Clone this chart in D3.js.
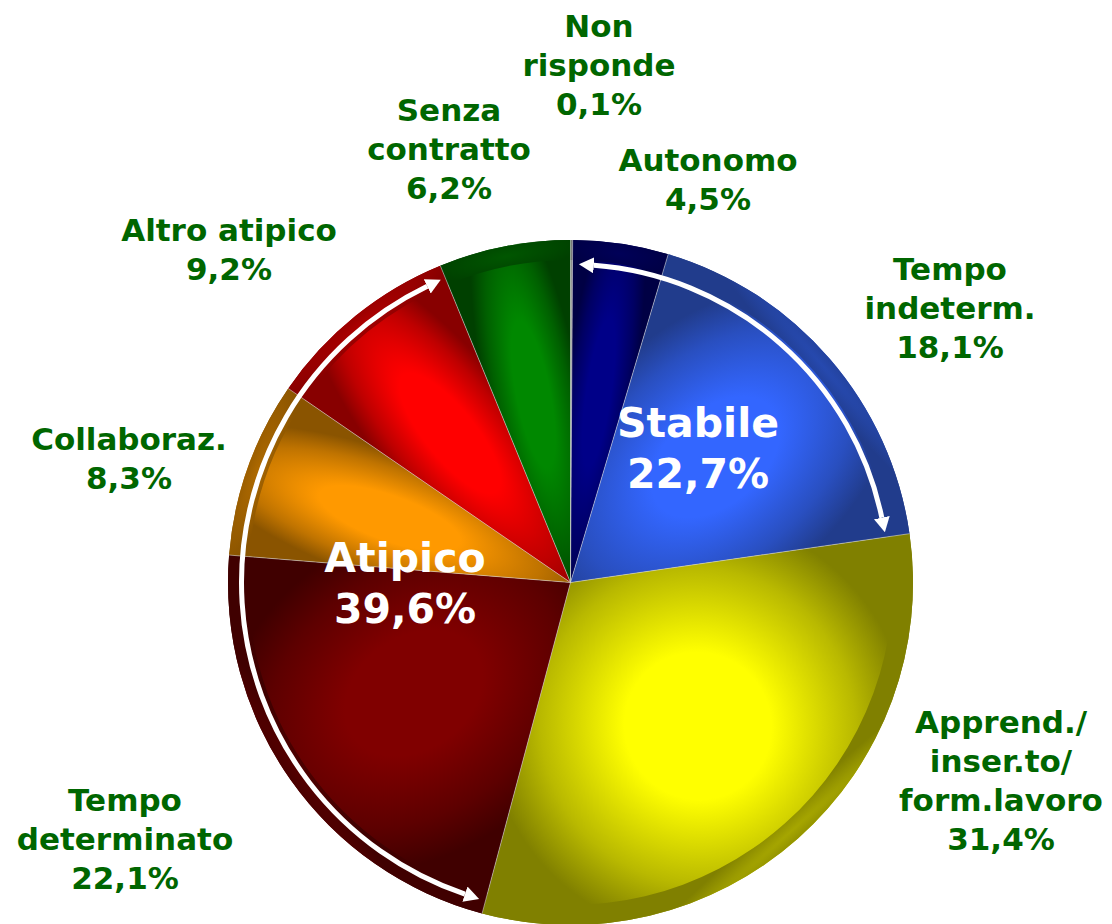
<!DOCTYPE html>
<html>
<head>
<meta charset="utf-8">
<script src="https://cdn.jsdelivr.net/npm/d3@7"></script>
<style>
  body { margin: 0; background: #ffffff; }
  svg { display: block; }
  text { font-family: "DejaVu Sans", Verdana, sans-serif; font-weight: bold; }
</style>
</head>
<body>
<svg></svg>
<script>
// data (clockwise from 12 o'clock)
let categories = ['Non risponde', 'Autonomo', 'Tempo indeterm.', 'Apprend./inser.to/form.lavoro',
                  'Tempo determinato', 'Collaboraz.', 'Altro atipico', 'Senza contratto'];
let values = [0.1, 4.5, 18.1, 31.4, 22.1, 8.3, 9.2, 6.2];
let labelLines = [['Non', 'risponde'], ['Autonomo'], ['Tempo', 'indeterm.'], ['Apprend./', 'inser.to/', 'form.lavoro'],
                  ['Tempo', 'determinato'], ['Collaboraz.'], ['Altro atipico'], ['Senza', 'contratto']];
let valueLabels = ['0,1%', '4,5%', '18,1%', '31,4%', '22,1%', '8,3%', '9,2%', '6,2%'];

let groupNames = ['Stabile', 'Atipico'];
let groupValues = ['22,7%', '39,6%'];
let groupMembers = [[1, 2], [4, 5, 6]];

// styles
let brightColors = ['#a0a0a0', '#000088', '#3366ff', '#ffff00', '#800000', '#ff9900', '#ff0000', '#008800'];
let darkColors   = ['#707070', '#000044', '#213c8c', '#808000', '#400000', '#8a5400', '#880000', '#004000'];
let labelColor = '#006600';

// layout
let width = 1112;
let height = 924;
let cx = 570.5;
let cy = 582.5;
let radius = 342.5;
let rimWidth = 20;
let labelAnchors = [[599, 37], [708, 171], [950, 280], [1001, 733], [125, 811], [129, 450], [229, 241], [449, 121]];
let groupAnchors = [[698, 437], [405, 572]];
let arrowRadius = [318, 329];
let lineHeight = 39;

let svg = d3.select('svg')
            .attr('width', width)
            .attr('height', height);

let defs = svg.append('defs');

let arcs = d3.pie()
             .sort(null)
             .value(d => d)
             .startAngle(0)
             .endAngle(2 * Math.PI)(values);

let arcGen = d3.arc()
               .innerRadius(0)
               .outerRadius(radius);

let rimGen = d3.arc()
               .innerRadius(radius - rimWidth)
               .outerRadius(radius);

let pieG = svg.append('g')
              .attr('transform', `translate(${cx}, ${cy})`);

// one elliptical radial gradient per slice, centred on the slice
arcs.forEach((a, i) => {
    let mid = (a.startAngle + a.endAngle) / 2;
    let half = (a.endAngle - a.startAngle) / 2;
    let rc = radius * 0.56;
    let px = rc * Math.sin(mid);
    let py = -rc * Math.cos(mid);
    let across = Math.max(rc * Math.sin(Math.min(half, Math.PI / 2)) * 1.3, 24);
    let along = radius * 0.62;
    let deg = mid * 180 / Math.PI - 90;

    let g = defs.append('radialGradient')
                .attr('id', 'grad' + i)
                .attr('gradientUnits', 'userSpaceOnUse')
                .attr('cx', 0).attr('cy', 0).attr('r', 1)
                .attr('gradientTransform', `translate(${px}, ${py}) rotate(${deg}) scale(${along}, ${across})`);
    g.append('stop').attr('offset', '0').attr('stop-color', brightColors[i]);
    g.append('stop').attr('offset', '0.35').attr('stop-color', brightColors[i]);
    g.append('stop').attr('offset', '0.75').attr('stop-color', d3.interpolateRgb(darkColors[i], brightColors[i])(0.45));
    g.append('stop').attr('offset', '1').attr('stop-color', darkColors[i]);

    let rg = defs.append('radialGradient')
                 .attr('id', 'rim' + i)
                 .attr('gradientUnits', 'userSpaceOnUse')
                 .attr('cx', 0).attr('cy', 0).attr('r', 1)
                 .attr('gradientTransform', `translate(${(radius - 10) * Math.sin(mid)}, ${-(radius - 10) * Math.cos(mid)}) rotate(${deg}) scale(${rimWidth}, ${Math.max((radius - 10) * Math.sin(Math.min(half, Math.PI / 2)) * 1.2, 15)})`);
    rg.append('stop').attr('offset', '0').attr('stop-color', d3.interpolateRgb(darkColors[i], brightColors[i])(0.3));
    rg.append('stop').attr('offset', '1').attr('stop-color', darkColors[i]);
});

pieG.selectAll('path.slice')
    .data(arcs)
    .enter()
    .append('path')
    .attr('class', 'slice')
    .attr('d', arcGen)
    .attr('fill', (d, i) => `url(#grad${i})`);

pieG.selectAll('path.rim')
    .data(arcs)
    .enter()
    .append('path')
    .attr('class', 'rim')
    .attr('d', rimGen)
    .attr('fill', (d, i) => `url(#rim${i})`);

// thin light lines between the slices
pieG.selectAll('line.sep')
    .data(arcs)
    .enter()
    .append('line')
    .attr('class', 'sep')
    .attr('x1', 0).attr('y1', 0)
    .attr('x2', d => radius * Math.sin(d.startAngle))
    .attr('y2', d => -radius * Math.cos(d.startAngle))
    .attr('stroke', '#d8d8d8')
    .attr('stroke-opacity', 0.55)
    .attr('stroke-width', 1);

// arrows spanning the two groups
let headLen = 15;
defs.append('marker')
    .attr('id', 'head')
    .attr('viewBox', '0 0 15 16')
    .attr('refX', 0)
    .attr('refY', 8)
    .attr('markerWidth', 15)
    .attr('markerHeight', 16)
    .attr('markerUnits', 'userSpaceOnUse')
    .attr('orient', 'auto-start-reverse')
    .append('path')
    .attr('d', 'M0,0 L15,8 L0,16 Z')
    .attr('fill', '#ffffff');

let pointAt = (r, t) => [r * Math.sin(t), -r * Math.cos(t)];

groupMembers.forEach((m, gi) => {
    let r = arrowRadius[gi];
    let a0 = arcs[m[0]].startAngle + 0.02 + headLen / r;
    let a1 = arcs[m[m.length - 1]].endAngle - 0.015 - headLen / r;
    let p0 = pointAt(r, a0);
    let p1 = pointAt(r, a1);
    let large = (a1 - a0) > Math.PI ? 1 : 0;
    pieG.append('path')
        .attr('d', `M${p0[0]},${p0[1]} A${r},${r} 0 ${large} 1 ${p1[0]},${p1[1]}`)
        .attr('fill', 'none')
        .attr('stroke', '#ffffff')
        .attr('stroke-width', 5)
        .attr('marker-start', 'url(#head)')
        .attr('marker-end', 'url(#head)');
});

// outside category labels
categories.forEach((c, i) => {
    let lines = labelLines[i].concat([valueLabels[i]]);
    let t = svg.append('text')
               .attr('text-anchor', 'middle')
               .attr('fill', labelColor)
               .attr('font-size', 31);
    lines.forEach((ln, k) => {
        t.append('tspan')
         .attr('x', labelAnchors[i][0])
         .attr('y', labelAnchors[i][1] + k * lineHeight)
         .text(ln);
    });
});

// group labels inside the pie
groupNames.forEach((g, i) => {
    let t = svg.append('text')
               .attr('text-anchor', 'middle')
               .attr('fill', '#ffffff')
               .attr('font-size', 41);
    [g, groupValues[i]].forEach((ln, k) => {
        t.append('tspan')
         .attr('x', groupAnchors[i][0])
         .attr('y', groupAnchors[i][1] + k * 51)
         .text(ln);
    });
});
</script>
</body>
</html>
